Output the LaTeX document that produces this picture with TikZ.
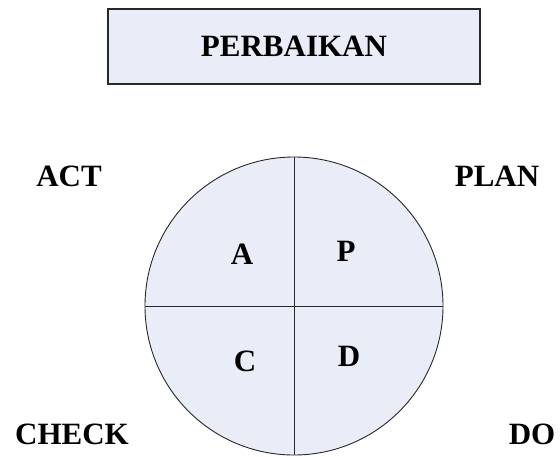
\documentclass[tikz,border=0pt]{standalone}
\usepackage{fontspec}
\setmainfont{Liberation Serif}
\definecolor{panelfill}{RGB}{232,237,247}
\definecolor{edge}{RGB}{40,40,40}
\begin{document}
\begin{tikzpicture}[x=1pt,y=-1pt,
  label/.style={font=\fontsize{31}{36}\selectfont\bfseries, inner sep=0pt, anchor=center},
  panel/.style={draw=edge, fill=panelfill}]
\useasboundingbox (0,0) rectangle (560,456);
% title box
\node[panel, line width=1.4pt, minimum width=372pt, minimum height=75pt, inner sep=0pt] (box) at (294,46.5) {};
\node[label] (title) at (294,46) {PERBAIKAN};
% PDCA wheel
\node[panel, circle, line width=0.9pt, minimum size=298pt, inner sep=0pt] (wheel) at (294,306) {};
\draw[edge, line width=0.9pt] (wheel.north) -- (wheel.south);
\draw[edge, line width=0.9pt] (wheel.west) -- (wheel.east);
% quadrant letters
\node[label] (a) at (242,254) {A};
\node[label] (p) at (346,251) {P};
\node[label] (c) at (245,361) {C};
\node[label] (d) at (349,356) {D};
% corner labels
\node[label] (act) at (69,176) {ACT};
\node[label] (plan) at (497,176) {PLAN};
\node[label] (check) at (72,434) {CHECK};
\node[label] (do) at (532,434) {DO};
\end{tikzpicture}
\end{document}
